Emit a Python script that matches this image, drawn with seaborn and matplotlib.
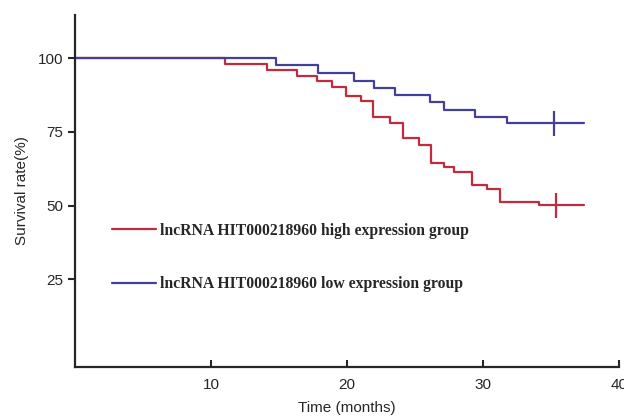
import numpy as np
import pandas as pd
import matplotlib
matplotlib.use("Agg")
import matplotlib.pyplot as plt
import seaborn as sns

# step data (time in months, survival in %)
high_time = [0, 11.0, 14.1, 16.3, 17.8, 18.9, 19.9, 21.0, 21.9, 23.2, 24.1, 25.3,
             26.2, 27.1, 27.9, 29.2, 30.3, 31.25, 34.1, 37.4]
high_surv = [100, 98.0, 95.8, 93.9, 92.1, 90.3, 87.2, 85.3, 79.9, 78.1, 72.8, 70.7,
             64.6, 63.2, 61.5, 57.0, 55.5, 51.1, 50.2, 50.2]
low_time = [0, 14.8, 17.9, 20.5, 22.0, 23.5, 26.1, 27.1, 29.4, 31.8, 37.4]
low_surv = [100, 97.5, 94.8, 92.3, 89.7, 87.5, 85.0, 82.4, 80.1, 77.9, 77.9]

censor_time = [35.4, 35.2]
censor_surv = [50.2, 77.9]

labels = ["lncRNA HIT000218960 high expression group",
          "lncRNA HIT000218960 low expression group"]
colors = ["#c42a3e", "#44409a"]

df = pd.concat([
    pd.DataFrame({"time": high_time, "surv": high_surv, "group": labels[0]}),
    pd.DataFrame({"time": low_time, "surv": low_surv, "group": labels[1]}),
])

sns.set_style("ticks")
plt.rcParams["font.family"] = ["Liberation Sans", "DejaVu Sans"]

fig = plt.figure(figsize=(6.24, 4.17), dpi=100)
ax = fig.add_axes([0.120, 0.12, 0.872, 0.844])

sns.lineplot(data=df, x="time", y="surv", hue="group", hue_order=labels,
             palette=colors, drawstyle="steps-post", estimator=None, sort=False,
             linewidth=1.6, ax=ax)

# censor ticks
for t, s, c in zip(censor_time, censor_surv, colors):
    ax.plot([t], [s], marker="|", markersize=18, markeredgewidth=1.6, color=c)

ax.set_xlim(0, 40)
ax.set_ylim(-4.7, 114.6)
ax.set_xticks([10, 20, 30, 40])
ax.set_yticks([25, 50, 75, 100])
ax.tick_params(axis="x", direction="in", length=5, width=1.5, labelsize=11, pad=8)
ax.tick_params(axis="y", direction="out", length=5, width=1.5, labelsize=11)
sns.despine(ax=ax)
for sp in ["left", "bottom"]:
    ax.spines[sp].set_linewidth(1.6)

ax.set_xlabel("Time (months)", fontsize=11)
ax.set_ylabel("Survival rate(%)", fontsize=11)
ax.xaxis.set_label_coords(0.5, -0.098)
ax.yaxis.set_label_coords(-0.085, 0.5)

leg = ax.legend(loc="upper left", bbox_to_anchor=(0.043, 0.45), frameon=False,
                handlelength=2.75, handletextpad=0.3, labelspacing=2.4,
                prop={"family": "Liberation Serif", "weight": "bold", "size": 11.3})

fig.savefig("out.png", dpi=100)
